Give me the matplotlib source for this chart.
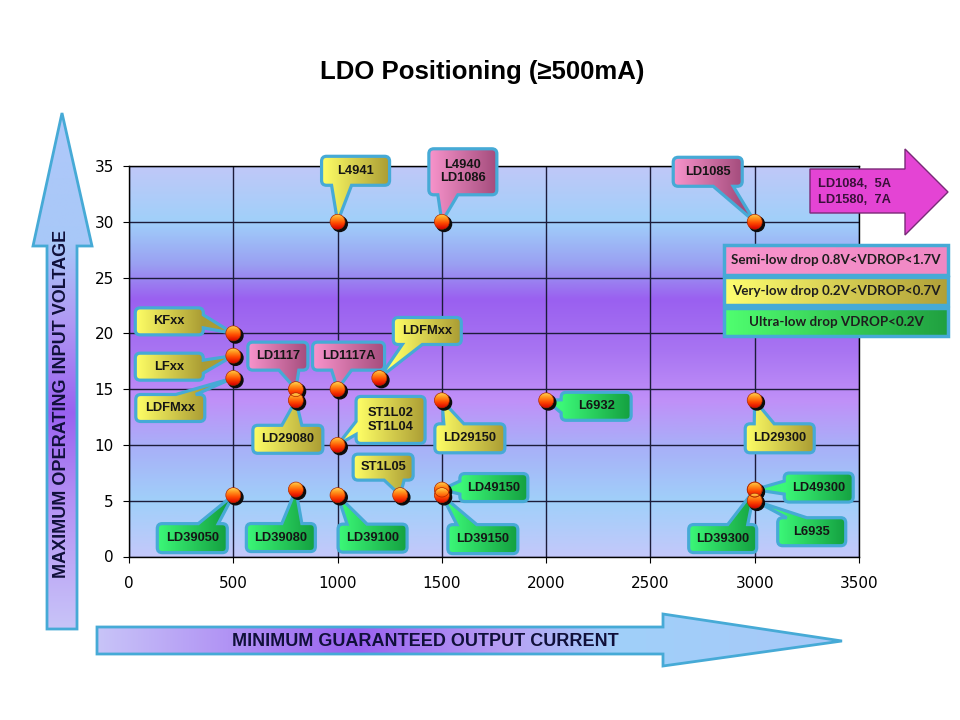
import numpy as np
import matplotlib.pyplot as plt
from matplotlib.path import Path
from matplotlib.patches import PathPatch, Circle, Polygon, Rectangle
from matplotlib.colors import LinearSegmentedColormap

#%% data

parts = ['L4941', 'L4940\nLD1086', 'LD1085', 'KFxx', 'LFxx', 'LDFMxx',
         'LD1117', 'LD1117A', 'LDFMxx', 'LD29080', 'ST1L02\nST1L04',
         'LD29150', 'L6932', 'LD29300', 'ST1L05', 'LD39050', 'LD39080',
         'LD39100', 'LD49150', 'LD39150', 'LD49300', 'LD39300', 'L6935']
current_ma = [1000, 1500, 3000, 500, 500, 500, 800, 1000, 1200, 800, 1000,
              1500, 2000, 3000, 1300, 500, 800, 1000, 1500, 1500, 3000, 3000, 3000]
vin_max = [30, 30, 30, 20, 18, 16, 15, 15, 16, 14, 10,
           14, 14, 14, 5.5, 5.5, 6, 5.5, 6, 5.5, 6, 6, 5]
drop_class = ['very', 'semi', 'semi', 'very', 'very', 'very', 'semi', 'semi',
              'very', 'very', 'very', 'very', 'ultra', 'very', 'very', 'ultra',
              'ultra', 'ultra', 'ultra', 'ultra', 'ultra', 'ultra', 'ultra']

legend_labels = ['Semi-low drop 0.8V<VDROP<1.7V',
                 'Very-low drop 0.2V<VDROP<0.7V',
                 'Ultra-low drop VDROP<0.2V']
legend_classes = ['semi', 'very', 'ultra']
more_parts = 'LD1084,  5A\nLD1580,  7A'

x_ticks = [0, 500, 1000, 1500, 2000, 2500, 3000, 3500]
y_ticks = [0, 5, 10, 15, 20, 25, 30, 35]

#%% layout (pixels): callout box centre offset from its point, box size

box_dx = [18, 21, -47, -64, -64, -63, -18, 11, 48, -8, 53,
          28, 50, 25, -17, -41, -15, 35, 52, 41, 64, -32, 57]
box_dy = [-51, -50, -50, -12, 11, 30, -33, -33, -47, 39, -25,
          38, 6, 38, -28, 43, 48, 43, -2, 44, -2, 49, 31]
box_w = [68, 68, 69, 68, 68, 69, 60, 72, 68, 70, 69,
         70, 70, 69, 60, 70, 69, 69, 68, 70, 69, 68, 68]
box_h = [29, 46, 29, 27, 27, 27, 28, 28, 27, 28, 47,
         29, 28, 29, 26, 29, 28, 28, 28, 29, 29, 28, 28]

class_colors = {'semi': ('#f894cc', '#a44c7c'),
                'very': ('#ffff66', '#aa9c34'),
                'ultra': ('#3cf878', '#14a040')}
border = '#46aad6'
font_arial = ['Liberation Sans', 'DejaVu Sans']

#%% figure and main axes

fig = plt.figure(figsize=(9.6, 7.2), dpi=100)
ax = fig.add_axes([129/960, 1 - 556.5/720, 730/960, 390.5/720])
ax.set_xlim(0, 3500)
ax.set_ylim(0, 35)

bg_stops = [0.0, 0.14, 0.25, 0.34, 0.47, 0.60, 0.72, 0.86, 1.0]
bg_cols = ['#c0c8f8', '#a0d0fa', '#9aa0f2', '#9a60f0', '#a874f2',
           '#c090f8', '#a8b0f8', '#a0d0fa', '#c4c8fa']
bg_cmap = LinearSegmentedColormap.from_list('bg', list(zip(bg_stops, bg_cols)))
ax.imshow(np.linspace(0, 1, 256)[:, None], cmap=bg_cmap, aspect='auto',
          extent=[0, 3500, 0, 35], origin='upper', zorder=0)

ax.set_xticks(x_ticks)
ax.set_yticks(y_ticks)
ax.grid(True, color='#1c1c3a', lw=1.0)
for s in ax.spines.values():
    s.set_color('black')
    s.set_linewidth(1.0)
ax.tick_params(axis='x', direction='out', length=4, pad=10, labelsize=11)
ax.tick_params(axis='y', direction='out', length=4, pad=7, labelsize=11)

#%% overlay axes in pixel coords

ax2 = fig.add_axes([0, 0, 1, 1], zorder=5)
ax2.set_xlim(0, 960)
ax2.set_ylim(0, 720)
ax2.axis('off')

to_px = lambda x, y: ax2.transData.inverted().transform(ax.transData.transform((x, y)))


def grad_fill(patch, cols, stops=None, horizontal=True, span=None, z=3):
    # gradient image clipped to a patch
    ax2.add_patch(patch)
    ext = patch.get_path().transformed(patch.get_patch_transform()).get_extents()
    if stops is None:
        stops = np.linspace(0, 1, len(cols))
    cmap = LinearSegmentedColormap.from_list('g', list(zip(stops, cols)))
    if horizontal:
        lo, hi = span if span else (ext.x0, ext.x1)
        v = np.clip((np.linspace(ext.x0, ext.x1, 256) - lo) / (hi - lo), 0, 1)
        img = v[None, :]
    else:
        lo, hi = span if span else (ext.y0, ext.y1)
        v = np.clip((np.linspace(ext.y0, ext.y1, 256) - lo) / (hi - lo), 0, 1)
        img = v[:, None]
    im = ax2.imshow(img, cmap=cmap, vmin=0, vmax=1, aspect='auto', origin='lower',
                    extent=[ext.x0, ext.x1, ext.y0, ext.y1], zorder=z - 0.01,
                    interpolation='bilinear')
    im.set_clip_path(patch)


def callout_path(cx, cy, w, h, tip, r=5):
    x0, x1, y0, y1 = cx - w/2, cx + w/2, cy - h/2, cy + h/2
    tx, ty = tip
    rx, ry = (tx - cx) / (w/2), (ty - cy) / (h/2)
    if abs(rx) > abs(ry):
        side = 'right' if rx > 0 else 'left'
    else:
        side = 'top' if ry > 0 else 'bottom'

    def base(lo, hi, t, hb):
        c = min(max(t, lo + r + hb), hi - r - hb)
        mid = (lo + hi) / 2
        c += np.sign(mid - c) * min(4, abs(mid - c))
        return c - hb, c + hb

    verts, codes = [(x0 + r, y0)], [Path.MOVETO]

    def line(p):
        verts.append(p)
        codes.append(Path.LINETO)

    def curve(c, p):
        verts.extend([c, p])
        codes.extend([Path.CURVE3, Path.CURVE3])

    if side == 'bottom':
        a, b = base(x0, x1, tx, 10)
        line((a, y0)); line((tx, ty)); line((b, y0))
    line((x1 - r, y0)); curve((x1, y0), (x1, y0 + r))
    if side == 'right':
        a, b = base(y0, y1, ty, 6.5)
        line((x1, a)); line((tx, ty)); line((x1, b))
    line((x1, y1 - r)); curve((x1, y1), (x1 - r, y1))
    if side == 'top':
        a, b = base(x0, x1, tx, 10)
        line((b, y1)); line((tx, ty)); line((a, y1))
    line((x0 + r, y1)); curve((x0, y1), (x0, y1 - r))
    if side == 'left':
        a, b = base(y0, y1, ty, 6.5)
        line((x0, b)); line((tx, ty)); line((x0, a))
    line((x0, y0 + r)); curve((x0, y0), (x0 + r, y0))
    verts.append((x0 + r, y0))
    codes.append(Path.CLOSEPOLY)
    return Path(verts, codes)

#%% callouts

pts = [to_px(x, y) for x, y in zip(current_ma, vin_max)]
for i, lab in enumerate(parts):
    px, py = pts[i]
    cx, cy = px + box_dx[i], py - box_dy[i]
    path = callout_path(cx, cy, box_w[i], box_h[i], (px, py))
    patch = PathPatch(path, facecolor='none', edgecolor=border, lw=2.3, zorder=3)
    grad_fill(patch, class_colors[drop_class[i]],
              span=(cx - box_w[i]/2, cx + box_w[i]/2), z=3)
    ax2.text(cx, cy, lab, ha='center', va='center', fontsize=9.3, fontweight='bold',
             family=font_arial, color='#151515', linespacing=1.15, zorder=4)

# points (sphere with shadow)
for px, py in pts:
    ax2.add_patch(Circle((px + 2.2, py - 2.2), 7.5, color='#0c0c0c', zorder=6))
    sph = Circle((px, py), 7.5, facecolor='none', edgecolor='#b02800', lw=0.5, zorder=7)
    grad_fill(sph, ['#d80000', '#ff4a00', '#ff9a20', '#ffd050'],
              stops=[0, 0.4, 0.75, 1.0], horizontal=False, z=7)

#%% legend boxes and the "more" arrow

leg_top = [245, 277, 308]
leg_h = [30, 28, 28]
leg_cols = {'semi': ('#f894cc', '#f088c4'),
            'very': ('#ffff70', '#b0a038'),
            'ultra': ('#50ff70', '#20a040')}
for lab, cls, t, h in zip(legend_labels, legend_classes, leg_top, leg_h):
    rect = Rectangle((724, 720 - t - h), 224, h, facecolor='none',
                     edgecolor=border, lw=2.5, zorder=8)
    grad_fill(rect, leg_cols[cls], z=8)
    ax2.text(836, 720 - t - h/2, lab, ha='center', va='center', fontsize=9.6,
             fontweight='bold', family=['Lato', 'DejaVu Sans'], color='#1e1e1e', zorder=9)

arrow_m = [(810, 169), (905, 169), (905, 149), (948, 192), (905, 235), (905, 213), (810, 213)]
ax2.add_patch(Polygon([(x, 720 - y) for x, y in arrow_m], closed=True,
                      facecolor='#e444d4', edgecolor='#7a2a78', lw=1, zorder=8))
ax2.text(818, 720 - 192, more_parts, ha='left', va='center', fontsize=9.3,
         fontweight='bold', family=font_arial, color='#3a103a', linespacing=1.35, zorder=9)

#%% axis arrows

arrow_l = [(62, 113), (92, 246), (77, 246), (77, 629), (47, 629), (47, 246), (33, 246)]
pl = Polygon([(x, 720 - y) for x, y in arrow_l], closed=True, facecolor='none',
             edgecolor=border, lw=2, zorder=3)
grad_fill(pl, ['#c8c4f8', '#b490f4', '#9a62f0', '#b09af4', '#a8c8f8', '#b0c8fa'],
          stops=[0, 0.25, 0.42, 0.6, 0.75, 1.0], horizontal=False, z=3)
ax2.text(62, 720 - 404, 'MAXIMUM OPERATING INPUT VOLTAGE', rotation=90,
         ha='center', va='center', fontsize=13, fontweight='bold',
         family=font_arial, color='#10103a', zorder=4)

arrow_b = [(97, 627), (663, 627), (663, 614), (842, 641), (663, 666), (663, 654), (97, 654)]
pb = Polygon([(x, 720 - y) for x, y in arrow_b], closed=True, facecolor='none',
             edgecolor=border, lw=2, zorder=3)
grad_fill(pb, ['#c8c4f8', '#9a62f0', '#b8a0f4', '#a0d0fa', '#a8c8f8'],
          stops=[0, 0.35, 0.55, 0.7, 1.0], z=3)
ax2.text(425, 720 - 641, 'MINIMUM GUARANTEED OUTPUT CURRENT', ha='center',
         va='center', fontsize=13, fontweight='bold', family=font_arial,
         color='#10103a', zorder=4)

#%% title

fig.text(482/960, 1 - 72/720, 'LDO Positioning (≥500mA)', ha='center', va='center',
         fontsize=18.5, fontweight='bold', family=font_arial)

fig.savefig('out.png', dpi=100)
